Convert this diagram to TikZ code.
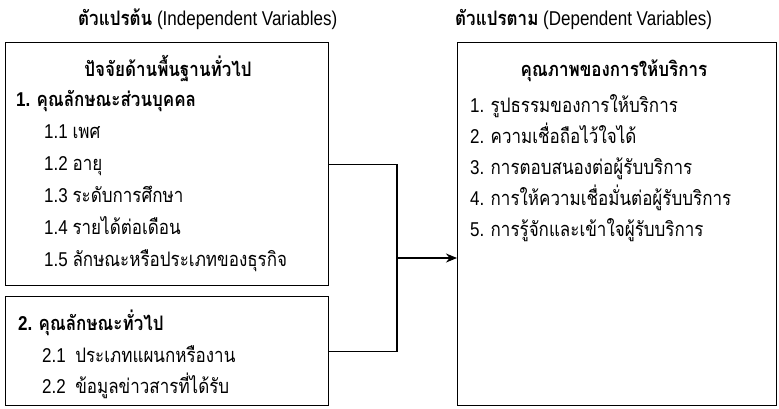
\documentclass[tikz,border=0pt]{standalone}
\usepackage{fontspec}
\setmainfont{Liberation Sans}[FakeStretch=0.85]
\newfontfamily\thaifont[Script=Thai,FakeStretch=0.85]{Loma}
\newcommand\T[1]{{\thaifont #1}}
\usetikzlibrary{arrows.meta}
\tikzset{
  frame/.style={draw, line width=1.1pt, anchor=north west, inner sep=0pt},
  txt/.style={anchor=base west, inner sep=0pt, font=\fontsize{20}{23}\selectfont},
  btxt/.style={txt, font=\fontsize{20}{23}\selectfont\bfseries},
  ttl/.style={anchor=base, inner sep=0pt, font=\fontsize{20}{23}\selectfont\bfseries},
  hd/.style={anchor=base west, inner sep=0pt, font=\fontsize{20}{23}\selectfont},
  conn/.style={line width=1.1pt},
}
\begin{document}
\begin{tikzpicture}[x=1pt,y=-1pt]
\useasboundingbox (0,0) rectangle (779,408);
% headings
\node[hd] (h1) at (78,25) {\T{\bfseries ตัวแปรต้น} (Independent Variables)};
\node[hd] (h2) at (455,25) {\T{\bfseries ตัวแปรตาม} (Dependent Variables)};
% boxes
\node[frame, minimum width=323pt, minimum height=243pt] (b1) at (5,42) {};
\node[frame, minimum width=323pt, minimum height=109pt] (b2) at (5,296) {};
\node[frame, minimum width=319pt, minimum height=363pt] (b3) at (457,42) {};
% box 1 text
\node[ttl] (t1) at (168,76) {\T{ปัจจัยด้านพื้นฐานทั่วไป}};
\node[btxt] (a0) at (16,106) {1. \T{คุณลักษณะส่วนบุคคล}};
\node[txt] (a1) at (44,138) {1.1 \T{เพศ}};
\node[txt] (a2) at (44,170) {1.2 \T{อายุ}};
\node[txt] (a3) at (44,202) {1.3 \T{ระดับการศึกษา}};
\node[txt] (a4) at (44,234) {1.4 \T{รายได้ต่อเดือน}};
\node[txt] (a5) at (44,266) {1.5 \T{ลักษณะหรือประเภทของธุรกิจ}};
% box 2 text
\node[btxt] (c0) at (18,330) {2. \T{คุณลักษณะทั่วไป}};
\node[txt] (c1) at (42,362) {2.1\ \ \T{ประเภทแผนกหรืองาน}};
\node[txt] (c2) at (42,393) {2.2\ \ \T{ข้อมูลข่าวสารที่ได้รับ}};
% box 3 text
\node[ttl] (t3) at (614,76) {\T{คุณภาพของการให้บริการ}};
\node[txt] (d1) at (470,112) {1. \T{รูปธรรมของการให้บริการ}};
\node[txt] (d2) at (470,143) {2. \T{ความเชื่อถือไว้ใจได้}};
\node[txt] (d3) at (470,174) {3. \T{การตอบสนองต่อผู้รับบริการ}};
\node[txt] (d4) at (470,205) {4. \T{การให้ความเชื่อมั่นต่อผู้รับบริการ}};
\node[txt] (d5) at (470,236) {5. \T{การรู้จักและเข้าใจผู้รับบริการ}};
% connectors
\coordinate (j) at (397,258);
\draw[conn] (b1.east) -| (j) |- (b2.east);
\draw[conn, -{Stealth[length=11pt,width=9pt,inset=3.5pt]}] (j) -- (j -| b3.west);
\end{tikzpicture}
\end{document}
